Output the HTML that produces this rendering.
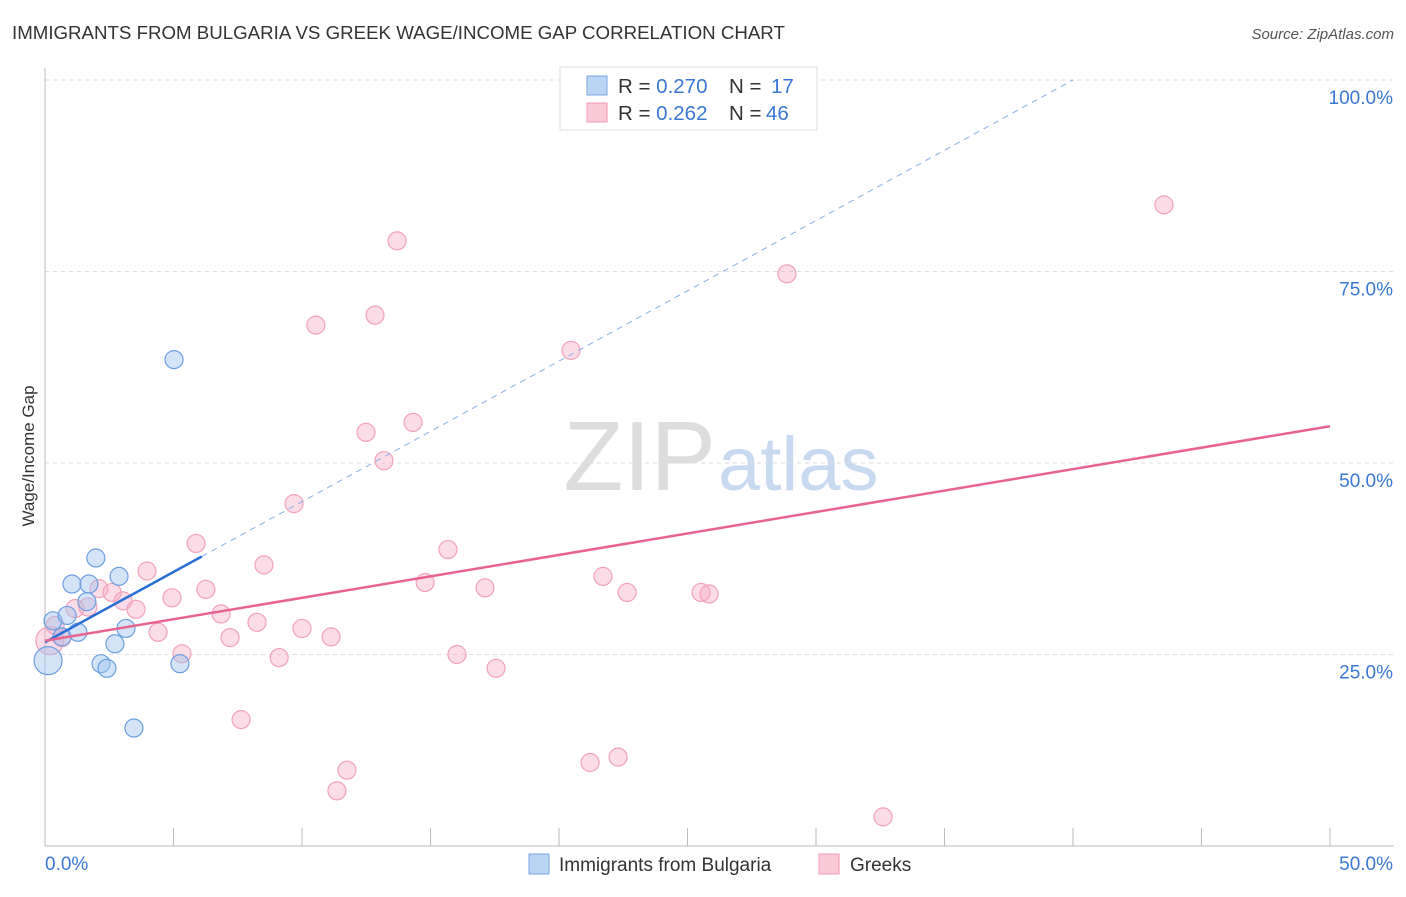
<!DOCTYPE html>
<html><head><meta charset="utf-8"><style>
body{margin:0;background:#fff;font-family:"Liberation Sans",sans-serif}
svg text{font-family:"Liberation Sans",sans-serif}
</style></head><body>
<svg id="c" width="1406" height="892">
<text x="12" y="39" font-size="18.7" fill="#333">IMMIGRANTS FROM BULGARIA VS GREEK WAGE/INCOME GAP CORRELATION CHART</text>
<text x="1394" y="39" font-size="15" fill="#555" font-style="italic" text-anchor="end">Source: ZipAtlas.com</text>
<text x="716" y="490" font-size="98" fill="#ddd" font-family="Liberation Serif" text-anchor="end">ZIP</text>
<text x="718" y="490" font-size="76" fill="#c8daf2">atlas</text>
<text transform="translate(34,456) rotate(-90)" font-size="17" fill="#333" text-anchor="middle">Wage/Income Gap</text>
<g id="grid"></g><g id="pts"></g><g id="lines"></g>
<g>
<rect x="560" y="67" width="257" height="63" fill="#fff" stroke="#ddd"/>
<rect x="587" y="76" width="20" height="19" fill="#bcd4f4" stroke="#7aa6e0"/>
<rect x="587" y="103" width="20" height="19" fill="#fbcad8" stroke="#f09ab4"/>
<text x="618" y="93" font-size="20.5" fill="#333">R = <tspan fill="#3a78d4">0.270</tspan><tspan x="729">N = </tspan><tspan x="771" fill="#3a78d4">17</tspan></text>
<text x="618" y="120" font-size="20.5" fill="#333">R = <tspan fill="#3a78d4">0.262</tspan><tspan x="729">N = </tspan><tspan x="766" fill="#3a78d4">46</tspan></text>
</g>
<g>
<rect x="529" y="854" width="20" height="20" fill="#bcd4f4" stroke="#7aa6e0"/>
<text x="559" y="871" font-size="19" fill="#333">Immigrants from Bulgaria</text>
<rect x="819" y="854" width="20" height="20" fill="#fbcad8" stroke="#f09ab4"/>
<text x="850" y="871" font-size="19" fill="#333">Greeks</text>
</g>
</svg>
<script>
const yTicks=[25,50,75,100];
const yTickLabels=["25.0%","50.0%","75.0%","100.0%"];
const blueX=[0.12,0.31,0.66,0.86,1.05,1.28,1.63,1.71,1.98,2.18,2.41,2.72,2.88,3.15,3.46,5.02,5.25];
const blueY=[24.2,29.4,27.3,30.1,34.2,27.9,31.9,34.2,37.6,23.8,23.2,26.4,35.2,28.4,15.4,63.5,23.8];
const pinkX=[0.19,0.39,0.66,1.17,1.67,2.10,2.61,3.04,3.54,3.97,4.40,4.94,5.33,5.88,6.26,6.85,7.20,7.63,8.25,8.52,9.11,9.69,10.00,10.54,11.13,11.36,11.75,12.49,12.84,13.19,13.70,14.32,14.79,15.68,16.03,17.12,17.55,20.47,21.21,21.71,22.30,22.65,25.53,25.84,28.87,32.61,43.54];
const pinkY=[26.8,28.8,27.2,31.0,31.2,33.6,33.1,32.0,30.9,35.9,27.9,32.4,25.1,39.5,33.5,30.3,27.2,16.5,29.2,36.7,24.6,44.7,28.4,68.0,27.3,7.2,9.9,54.0,69.3,50.3,79.0,55.3,34.4,38.7,25.0,33.7,23.2,64.7,10.9,35.2,11.6,33.1,33.1,32.9,74.7,3.8,83.7];
const blueTrend=[26.6,1.835];
const pinkTrend=[26.8,0.56];
const X=v=>45+v/50*1285, Y=v=>846-v/100*766;
const NS="http://www.w3.org/2000/svg";
function mk(t,a,p){const e=document.createElementNS(NS,t);for(const k in a)e.setAttribute(k,a[k]);p.appendChild(e);return e;}
const g=document.getElementById('grid');
yTicks.forEach((t,i)=>{
 const l=mk('line',{x1:45,x2:1394,y1:Y(t),y2:Y(t),stroke:'#ddd','stroke-dasharray':'4,4'},g);
 
 
 const tx=mk('text',{x:1393,y:Y(t)+24,'font-size':19,fill:'#3a78d4','text-anchor':'end'},g);
 tx.textContent=yTickLabels[i];
 
 
});
mk('line',{x1:45,x2:45,y1:68,y2:846,stroke:'#bbb'},g);
mk('line',{x1:45,x2:1394,y1:846,y2:846,stroke:'#bbb'},g);
for(let i=1;i<=10;i++){const x=X(i*5);const t=mk('line',{x1:x,x2:x,y1:828,y2:846,stroke:'#bbb'},g);}
const x0=mk('text',{x:45,y:870,'font-size':19,fill:'#3a78d4'},g);x0.textContent='0.0%';


const x1=mk('text',{x:1393,y:870,'font-size':19,fill:'#3a78d4','text-anchor':'end'},g);x1.textContent='50.0%';


const p=document.getElementById('pts');
pinkX.forEach((v,i)=>{const c=mk('circle',{cx:X(v),cy:Y(pinkY[i]),r:i==0?14:9,fill:'rgba(248,170,195,0.4)',stroke:'#f2a2bb','stroke-width':1.2},p);
 
 });
blueX.forEach((v,i)=>{const c=mk('circle',{cx:X(v),cy:Y(blueY[i]),r:i==0?14:9,fill:'rgba(160,195,240,0.45)',stroke:'#6c9fe0','stroke-width':1.2},p);
 
 });
const L=document.getElementById('lines');
const bEnd=(100-blueTrend[0])/blueTrend[1];
const bd=mk('line',{x1:X(6.1),y1:Y(blueTrend[0]+blueTrend[1]*6.1),x2:X(bEnd),y2:Y(100),stroke:'#8ab0e4','stroke-dasharray':'6,5','stroke-width':1},L);


const bl=mk('line',{x1:X(0),y1:Y(blueTrend[0]),x2:X(6.1),y2:Y(blueTrend[0]+blueTrend[1]*6.1),stroke:'#2a6fd6','stroke-width':2.5},L);


const pl=mk('line',{x1:X(0),y1:Y(pinkTrend[0]),x2:X(50),y2:Y(pinkTrend[0]+pinkTrend[1]*50),stroke:'#e8648f','stroke-width':2.5},L);


</script>
</body></html>
